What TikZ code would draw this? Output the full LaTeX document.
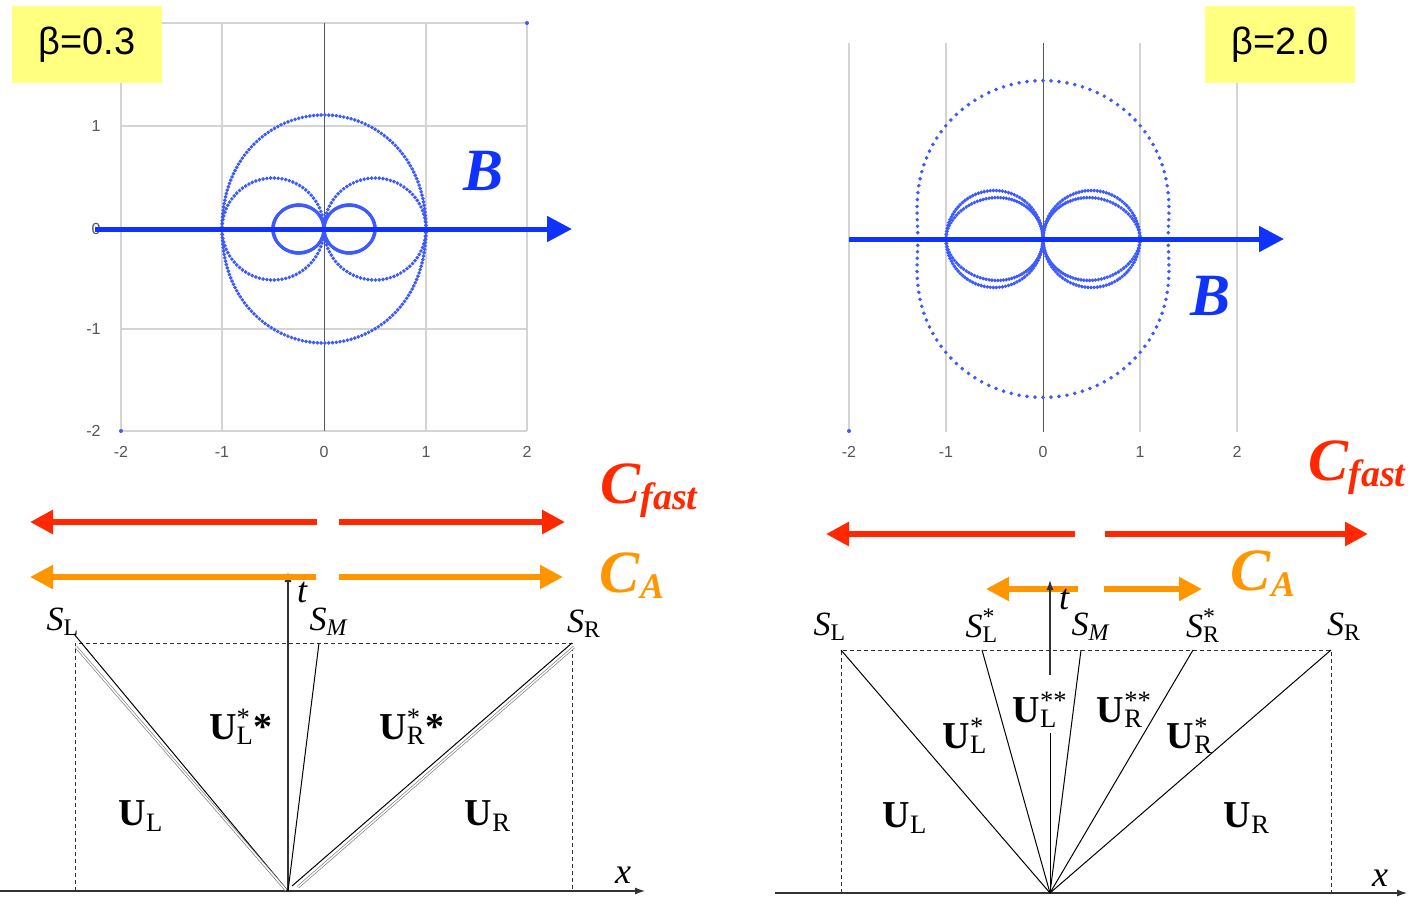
\documentclass[tikz,border=0pt]{standalone}
\usepackage{fontspec}
\setmainfont{Liberation Serif}
\newfontfamily\arialfont{Liberation Sans}
\usetikzlibrary{arrows.meta}
\definecolor{bblue}{RGB}{15,50,255}
\definecolor{dotblue}{RGB}{60,90,255}
\definecolor{fastred}{RGB}{255,40,0}
\definecolor{alforange}{RGB}{255,150,0}
\definecolor{boxyellow}{RGB}{255,255,128}
\definecolor{gridgray}{RGB}{212,212,212}
\definecolor{ticktext}{RGB}{85,85,85}
\newcommand{\supsub}[3]{#1\rlap{\textsuperscript{#2}}\textsubscript{#3}}
\tikzset{
  gridln/.style={gridgray, line width=0.75pt},
  zeroln/.style={black!65, line width=0.5pt},
  ticklbl/.style={font=\arialfont\fontsize{8}{9}\selectfont, text=ticktext, inner sep=0pt},
  betabox/.style={fill=boxyellow, minimum width=75pt, minimum height=38.5pt, inner sep=0pt,
    font=\arialfont\fontsize{19}{20}\selectfont},
  wavedot/.style={dotblue, only marks, mark=*, mark size=0.7pt, mark options={draw=none, fill=dotblue}},
  bfield/.style={bblue, line width=2.5pt, -{Triangle[length=12.5pt,width=12.5pt]}},
  bname/.style={bblue, font=\bfseries\itshape\fontsize{30}{32}\selectfont, inner sep=0pt},
  fastarr/.style={fastred, line width=3pt, -{Triangle[length=11.5pt,width=11.5pt]}},
  alfarr/.style={alforange, line width=2.6pt, -{Triangle[length=11.5pt,width=11.5pt]}},
  speed/.style={font=\bfseries\itshape\fontsize{30}{32}\selectfont, inner sep=0pt},
  axisln/.style={black!80, line width=0.6pt, -{Latex[length=5pt,width=3.5pt]}},
  boxln/.style={black!80, line width=0.5pt, dash pattern=on 2pt off 1.5pt},
  fanln/.style={black, line width=0.5pt},
  dblln/.style={gray, line width=0.35pt, double=white, double distance=0.7pt},
  slbl/.style={font=\fontsize{17}{18}\selectfont, inner sep=0pt},
  ulbl/.style={font=\fontsize{19}{20}\selectfont, inner sep=0pt},
  axlbl/.style={font=\itshape\fontsize{18}{19}\selectfont, inner sep=0pt}
}
\begin{document}
\begin{tikzpicture}[x=0.5pt, y=-0.5pt,
  declare function={
    vfast(\t,\c)=sqrt(0.5*(1+\c+sqrt((1+\c)^2-4*\c*cos(\t)*cos(\t))));
    vslow(\t,\c)=sqrt(max(0,0.5*(1+\c-sqrt(max(0,(1+\c)^2-4*\c*cos(\t)*cos(\t))))));
  }]
\useasboundingbox (0,0) rectangle (1410,896);

% beta = 0.3 polar plot
\foreach \gx in {121,222,426,527} \draw[gridln] (\gx,23) -- (\gx,431);
\foreach \gy in {23,126,229,329,431} \draw[gridln] (121,\gy) -- (527,\gy);
\draw[zeroln] (324,23) -- (324,431);
\foreach \gx/\gt in {121/-2,222/-1,324/0,426/1,527/2}
  \node[ticklbl] (txl\gx) at (\gx,452) {\gt};
\foreach \gy/\gt in {126/1,229/0,329/-1,431/-2}
  \node[ticklbl, anchor=east] (tyl\gy) at (101,\gy) {\gt};
\fill[dotblue] (527,23) circle (2) (121,431) circle (2);
\begin{scope}[shift={(324,229)}, x=51pt, y=51pt]
  \draw[wavedot] plot[domain=0:360, samples=190] ({vfast(\x,0.25)*cos(\x)}, {vfast(\x,0.25)*sin(\x)});
  \draw[wavedot] plot[domain=0:360, samples=170] ({abs(cos(\x))*cos(\x)}, {abs(cos(\x))*sin(\x)});
  \draw[wavedot] plot[domain=0:360, samples=400] ({vslow(\x,0.25)*cos(\x)}, {vslow(\x,0.25)*sin(\x)});
\end{scope}
\coordinate (bsL) at (95,229);
\coordinate (beL) at (572,229);
\draw[bfield] (bsL) -- (beL);
\node[bname] (bL) at (484,171) {B};
\node[betabox] (betaL) at (87,44.5) {β=0.3};

% beta = 2.0 polar plot
\foreach \gx in {849,946,1140,1237} \draw[gridln] (\gx,43) -- (\gx,432);
\draw[zeroln] (1043,43) -- (1043,432);
\foreach \gx/\gt in {849/-2,946/-1,1043/0,1140/1,1237/2}
  \node[ticklbl] (txr\gx) at (\gx,452) {\gt};
\fill[dotblue] (849,431) circle (2);
\begin{scope}[shift={(1043,239)}, x=48.5pt, y=48.5pt]
  \draw[wavedot] plot[domain=0:360, samples=125] ({vfast(\x,5/3)*cos(\x)}, {vfast(\x,5/3)*sin(\x)});
  \draw[wavedot] plot[domain=0:360, samples=200] ({abs(cos(\x))*cos(\x)}, {abs(cos(\x))*sin(\x)});
  \draw[wavedot] plot[domain=0:360, samples=200] ({vslow(\x,5/3)*cos(\x)}, {vslow(\x,5/3)*sin(\x)});
\end{scope}
\coordinate (bsR) at (849,239);
\coordinate (beR) at (1284,239);
\draw[bfield] (bsR) -- (beR);
\node[bname] (bR) at (1211,296) {B};
\node[betabox] (betaR) at (1280,44.5) {β=2.0};

% left fan
\coordinate (oL) at (288,891);
\coordinate (slL) at (75,643);
\coordinate (smL) at (319,643);
\coordinate (srL) at (572,643);
\draw[fastarr] (317,522) coordinate (f1a) -- (30,522) coordinate (f1b);
\draw[fastarr] (339,522) coordinate (f2a) -- (565,522) coordinate (f2b);
\draw[axisln] (oL) -- (288,572) coordinate (tL);
\draw[alfarr] (316,577) coordinate (a1a) -- (30,577) coordinate (a1b);
\draw[alfarr] (339,577) coordinate (a2a) -- (563,577) coordinate (a2b);
\node[speed, fastred] (cfL) at (649,491) {C\raisebox{-3pt}{\fontsize{19}{20}\selectfont fast}};
\node[speed, alforange] (caL) at (632,576) {C\raisebox{-3pt}{\fontsize{18}{19}\selectfont A}};
\draw[boxln] (slL |- oL) -- (slL) -- (srL) -- (srL |- oL);
\draw[axisln] (0,891) coordinate (xsL) -- (645,891) coordinate (xeL);
\draw[fanln] (74,634) -- (oL);
\draw[dblln] (76,647) -- (286,890);
\draw[fanln] (srL) -- (292,886);
\draw[dblln] (574,647) -- (298,887);
\draw[fanln] (oL) -- (smL);
\node[slbl] (lslL) at (63,622) {\supsub{\textit{S}}{}{L}};
\node[slbl] (lsmL) at (329,622) {\textit{S}\textsubscript{\textit{M}}};
\node[slbl] (lsrL) at (584,624) {\supsub{\textit{S}}{}{R}};
\node[axlbl] (ltL) at (302,593) {t};
\node[axlbl] (lxL) at (623,875) {x};
\node[ulbl] (ulssL) at (241,727) {\supsub{\textbf{U}}{*}{L}\textbf{*}};
\node[ulbl] (urssL) at (412,727) {\supsub{\textbf{U}}{*}{R}\textbf{*}};
\node[ulbl] (ulL) at (141,816) {\textbf{U}\textsubscript{L}};
\node[ulbl] (urL) at (488,816) {\textbf{U}\textsubscript{R}};

% right fan
\coordinate (oR) at (1050,893);
\coordinate (slR) at (841,650);
\coordinate (sslR) at (982,650);
\coordinate (smR) at (1081,650);
\coordinate (ssrR) at (1193,650);
\coordinate (srR) at (1331,650);
\draw[fastarr] (1075,534) coordinate (f3a) -- (826,534) coordinate (f3b);
\draw[fastarr] (1105,534) coordinate (f4a) -- (1368,534) coordinate (f4b);
\draw[alfarr] (1078,589) coordinate (a3a) -- (986,589) coordinate (a3b);
\draw[alfarr] (1104,589) coordinate (a4a) -- (1202,589) coordinate (a4b);
\node[speed, fastred] (cfR) at (1357,468) {C\raisebox{-3pt}{\fontsize{19}{20}\selectfont fast}};
\node[speed, alforange] (caR) at (1263,574) {C\raisebox{-3pt}{\fontsize{18}{19}\selectfont A}};
\draw[fanln] (oR) -- (1050,733) coordinate (tgR);
\draw[axisln] (1050,675) coordinate (tgR2) -- (1050,580) coordinate (tR);
\draw[boxln] (slR |- oR) -- (slR) -- (srR) -- (srR |- oR);
\draw[axisln] (775,893) coordinate (xsR) -- (1407,893) coordinate (xeR);
\foreach \p in {slR,sslR,smR,ssrR,srR} \draw[fanln] (oR) -- (\p);
\node[slbl] (lslR) at (830,627) {\supsub{\textit{S}}{}{L}};
\node[slbl] (lsslR) at (982,626) {\supsub{\textit{S}}{*}{L}};
\node[slbl] (lsmR) at (1091,627) {\textit{S}\textsubscript{\textit{M}}};
\node[slbl] (lssrR) at (1203,626) {\supsub{\textit{S}}{*}{R}};
\node[slbl] (lsrR) at (1344,627) {\supsub{\textit{S}}{}{R}};
\node[axlbl] (ltR) at (1064,600) {t};
\node[axlbl] (lxR) at (1380,878) {x};
\node[ulbl] (ulssR) at (1035,710) {\supsub{\textbf{U}}{**}{L}};
\node[ulbl] (urssR) at (1120,710) {\supsub{\textbf{U}}{**}{R}};
\node[ulbl] (ulsR) at (965,736) {\supsub{\textbf{U}}{*}{L}};
\node[ulbl] (ursR) at (1190,736) {\supsub{\textbf{U}}{*}{R}};
\node[ulbl] (ulR) at (905,818) {\textbf{U}\textsubscript{L}};
\node[ulbl] (urR) at (1247,818) {\textbf{U}\textsubscript{R}};
\end{tikzpicture}
\end{document}
